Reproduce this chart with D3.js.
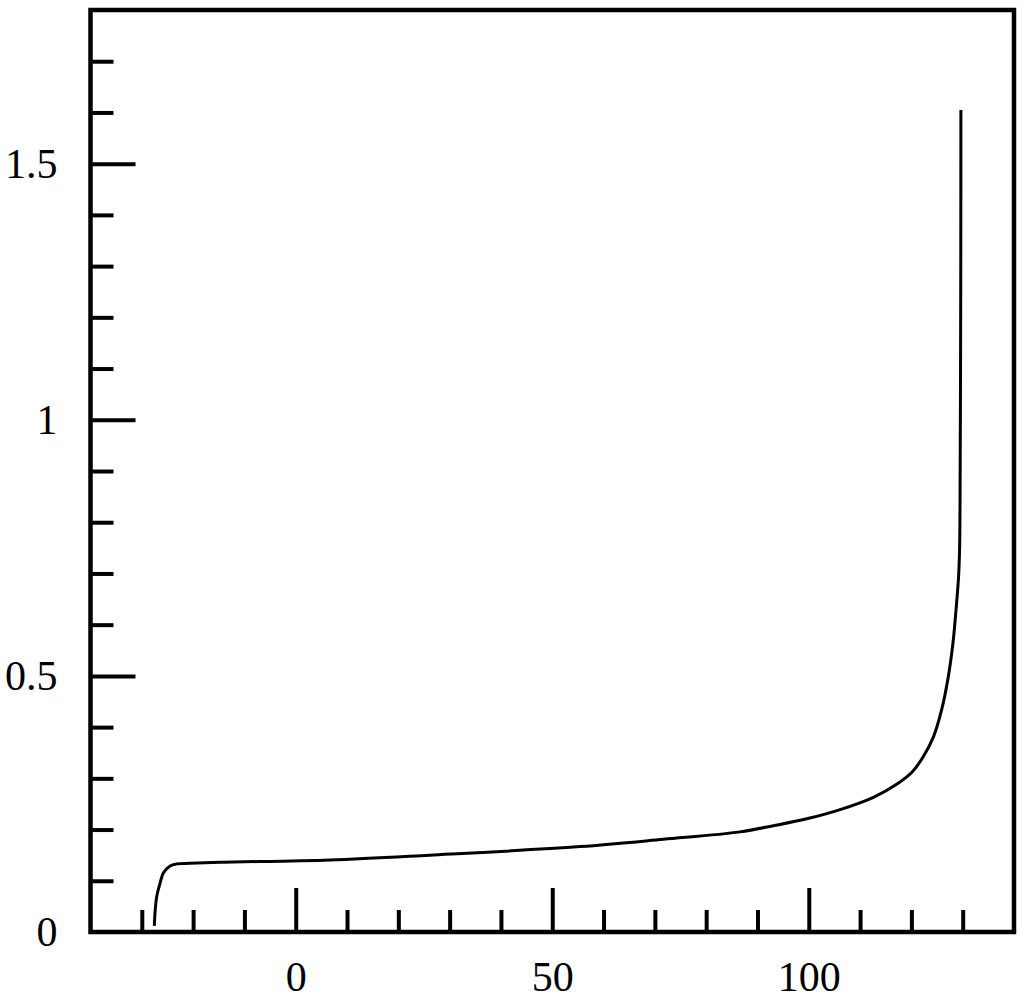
<!DOCTYPE html>
<html>
<head>
<meta charset="utf-8">
<script src="https://cdn.jsdelivr.net/npm/d3@7"></script>
<style>
  body { margin: 0; background: #fff; }
  svg { display: block; }
  text { font-family: "Liberation Serif", "Times New Roman", serif; }
</style>
</head>
<body>
<div id="grafica"></div>
<script>
// curve values
var xs = [-27.56, -27.43, -27.10, -26.45, -25.81, -24.50, -23.20, -20.60, -14.76, 6.7, 26.1, 55.4, 71.7, 86.6, 93.1,
          99.6, 106.1, 112.6, 117.2, 120.2, 122.3, 124.3, 125.9, 127.2, 128.1, 128.7, 129.2, 129.4, 129.5, 129.58, 129.63, 129.65];
var ys = [0.012, 0.037, 0.069, 0.095, 0.115, 0.129, 0.133, 0.134, 0.136, 0.1406, 0.150, 0.1667, 0.181, 0.1955, 0.2075,
          0.221, 0.239, 0.263, 0.289, 0.313, 0.342, 0.381, 0.434, 0.499, 0.564, 0.629, 0.694, 0.75, 0.88, 1.1, 1.35, 1.605];

var xMinorTicks = [-30, -20, -10, 10, 20, 30, 40, 60, 70, 80, 90, 110, 120, 130];
var xMajorTicks = [0, 50, 100];
var yMinorTicks = [0.1, 0.2, 0.3, 0.4, 0.6, 0.7, 0.8, 0.9, 1.1, 1.2, 1.3, 1.4, 1.6, 1.7];
var yMajorTicks = [0.5, 1, 1.5];
var yLabels = [0, 0.5, 1, 1.5];

var width = 1024, height = 999;
var margin = {left: 90.5, right: 1014, top: 10, bottom: 932};

var svg = d3.select("#grafica")
  .append("svg")
    .attr("width", width)
    .attr("height", height);

var x = d3.scaleLinear().domain([-40, 140]).range([margin.left, margin.right]);
var y = d3.scaleLinear().domain([0, 1.8]).range([margin.bottom, margin.top]);

function styleAxis(g) {
  g.select(".domain").remove();
  g.selectAll(".tick line").attr("stroke", "#000").attr("stroke-width", 4);
  g.selectAll(".tick text").attr("fill", "#000").style("font-size", "42px")
    .style("font-family", "'Liberation Serif', serif");
}

// x ticks
svg.append("g")
  .attr("transform", "translate(0," + margin.bottom + ")")
  .call(d3.axisBottom(x).tickValues(xMinorTicks).tickSize(-22).tickFormat(""))
  .call(styleAxis);

svg.append("g")
  .attr("transform", "translate(0," + margin.bottom + ")")
  .call(d3.axisBottom(x).tickValues(xMajorTicks).tickSize(-44).tickPadding(29).tickFormat(d3.format("")))
  .call(styleAxis);

// y ticks
svg.append("g")
  .attr("transform", "translate(" + margin.left + ",0)")
  .call(d3.axisLeft(y).tickValues(yMinorTicks).tickSize(-23).tickFormat(""))
  .call(styleAxis);

svg.append("g")
  .attr("transform", "translate(" + margin.left + ",0)")
  .call(d3.axisLeft(y).tickValues(yMajorTicks).tickSize(-45).tickFormat(""))
  .call(styleAxis);

svg.append("g")
  .attr("transform", "translate(" + margin.left + ",0)")
  .call(d3.axisLeft(y).tickValues(yLabels).tickSize(0).tickPadding(33).tickFormat(d3.format("")))
  .call(styleAxis);

// the curve
var pts = xs.map(function(v, i) { return [v, ys[i]]; });
svg.append("path")
  .datum(pts)
  .attr("fill", "none")
  .attr("stroke", "#000")
  .attr("stroke-width", 3)
  .attr("d", d3.line()
    .x(function(d) { return x(d[0]); })
    .y(function(d) { return y(d[1]); })
    .curve(d3.curveCatmullRom.alpha(0.5)));

// frame
svg.append("rect")
  .attr("x", margin.left)
  .attr("y", margin.top)
  .attr("width", margin.right - margin.left)
  .attr("height", margin.bottom - margin.top)
  .attr("fill", "none")
  .attr("stroke", "#000")
  .attr("stroke-width", 4.5);
</script>
</body>
</html>
